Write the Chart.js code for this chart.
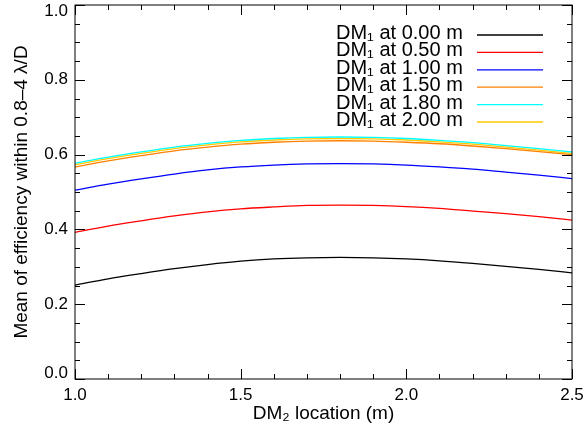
<!DOCTYPE html>
<html>
<head>
<meta charset="utf-8">
<script src="https://cdn.jsdelivr.net/npm/chart.js@4/dist/chart.umd.min.js"></script>
<style>
  html, body { margin: 0; padding: 0; background: #ffffff; }
  #wrap { width: 584px; height: 434px; position: relative; }
</style>
</head>
<body>
<div id="wrap"><canvas id="c" width="584" height="434"></canvas></div>
<script>
// ---- data ----
const dm2Location = [1.0, 1.1, 1.2, 1.3, 1.4, 1.5, 1.6, 1.7, 1.8, 1.9, 2.0, 2.1, 2.2, 2.3, 2.4, 2.5];
const effDM1_000 = [0.251, 0.268, 0.282, 0.295, 0.306, 0.315, 0.321, 0.324, 0.325, 0.324, 0.321, 0.316, 0.309, 0.301, 0.293, 0.284];
const effDM1_050 = [0.392, 0.409, 0.423, 0.436, 0.447, 0.455, 0.460, 0.464, 0.465, 0.464, 0.461, 0.456, 0.449, 0.442, 0.434, 0.425];
const effDM1_100 = [0.505, 0.521, 0.535, 0.548, 0.559, 0.567, 0.572, 0.575, 0.576, 0.575, 0.572, 0.567, 0.561, 0.553, 0.545, 0.536];
const effDM1_150 = [0.567, 0.583, 0.597, 0.610, 0.620, 0.628, 0.633, 0.636, 0.637, 0.636, 0.633, 0.629, 0.623, 0.616, 0.608, 0.600];
const effDM1_180 = [0.577, 0.593, 0.607, 0.620, 0.630, 0.638, 0.643, 0.646, 0.647, 0.646, 0.643, 0.638, 0.632, 0.624, 0.616, 0.607];
const effDM1_200 = [0.573, 0.589, 0.603, 0.616, 0.626, 0.634, 0.639, 0.642, 0.643, 0.642, 0.639, 0.634, 0.628, 0.620, 0.612, 0.603];

const seriesLabels = ['DM\u2081 at 0.00 m', 'DM\u2081 at 0.50 m', 'DM\u2081 at 1.00 m', 'DM\u2081 at 1.50 m', 'DM\u2081 at 1.80 m', 'DM\u2081 at 2.00 m'];
const seriesValues = [effDM1_000, effDM1_050, effDM1_100, effDM1_150, effDM1_180, effDM1_200];
const seriesColors = ['#000000', '#ff0000', '#0000ff', '#ff8000', '#00ffff', '#ffc800'];

const xMajorTicks = [1.0, 1.5, 2.0, 2.5];
const xTickLabels = ['1.0', '1.5', '2.0', '2.5'];
const yMajorTicks = [0.0, 0.2, 0.4, 0.6, 0.8, 1.0];
const yTickLabels = ['0.0', '0.2', '0.4', '0.6', '0.8', '1.0'];
const xTitle = 'DM\u2082 location (m)';
const yTitle = 'Mean of efficiency within 0.8\u20134 \u03bb/D';

// ---- chart ----
const FONT = '"Liberation Sans", Arial, Helvetica, sans-serif';

const datasets = seriesValues.map((vals, i) => ({
  label: seriesLabels[i],
  data: dm2Location.map((x, j) => ({ x: x, y: vals[j] })),
  borderColor: seriesColors[i],
  backgroundColor: seriesColors[i],
  borderWidth: 1.3,
  pointRadius: 0,
  fill: false,
  cubicInterpolationMode: 'monotone'
}));

const idlFrame = {
  id: 'idlFrame',
  afterDraw(chart) {
    const ctx = chart.ctx;
    const a = chart.chartArea;
    const xs = chart.scales.x, ys = chart.scales.y;
    ctx.save();
    ctx.strokeStyle = '#000';
    ctx.lineWidth = 1;
    // box
    ctx.strokeRect(a.left, a.top, a.right - a.left, a.bottom - a.top);
    // x ticks (bottom + top, inward)
    ctx.beginPath();
    for (let k = 0; k <= 15; k++) {
      const v = 1.0 + k * 0.1;
      const px = Math.round(xs.getPixelForValue(v)) + 0.5;
      const len = (k % 5 === 0) ? 10 : 5;
      ctx.moveTo(px, a.bottom); ctx.lineTo(px, a.bottom - len);
      ctx.moveTo(px, a.top); ctx.lineTo(px, a.top + len);
    }
    // y ticks (left + right, inward)
    for (let k = 0; k <= 20; k++) {
      const v = k * 0.05;
      const py = Math.round(ys.getPixelForValue(v)) + 0.5;
      const len = (k % 4 === 0) ? 10 : 5;
      ctx.moveTo(a.left, py); ctx.lineTo(a.left + len, py);
      ctx.moveTo(a.right, py); ctx.lineTo(a.right - len, py);
    }
    ctx.stroke();

    ctx.fillStyle = '#000';
    // x tick labels
    ctx.font = '17px ' + FONT;
    ctx.textAlign = 'center';
    ctx.textBaseline = 'middle';
    xMajorTicks.forEach((v, i) => {
      ctx.fillText(xTickLabels[i], xs.getPixelForValue(v), 395);
    });
    // y tick labels
    ctx.textAlign = 'right';
    yMajorTicks.forEach((v, i) => {
      let py = ys.getPixelForValue(v);
      py = Math.min(Math.max(py, 11), 373);
      ctx.fillText(yTickLabels[i], 68, py);
    });
    // axis titles
    ctx.font = '19px ' + FONT;
    ctx.textAlign = 'center';
    ctx.textBaseline = 'alphabetic';
    ctx.fillText(xTitle, (a.left + a.right) / 2, 419);
    ctx.save();
    ctx.translate(27, (a.top + a.bottom) / 2);
    ctx.rotate(-Math.PI / 2);
    ctx.fillText(yTitle, 0, 0);
    ctx.restore();
    // legend
    ctx.font = '20px ' + FONT;
    ctx.textAlign = 'left';
    chart.data.datasets.forEach((ds, i) => {
      const base = 39 + i * 17.4;
      ctx.fillStyle = '#000';
      ctx.fillText(ds.label, 336, base);
      ctx.strokeStyle = ds.borderColor;
      ctx.lineWidth = 1.3;
      ctx.beginPath();
      ctx.moveTo(477, base - 4);
      ctx.lineTo(543, base - 4);
      ctx.stroke();
    });
    ctx.restore();
  }
};

new Chart(document.getElementById('c'), {
  type: 'line',
  data: { datasets: datasets },
  options: {
    responsive: false,
    animation: false,
    layout: { padding: { top: 5, right: 12, left: 0, bottom: 0 } },
    plugins: { legend: { display: false }, tooltip: { enabled: false } },
    scales: {
      x: {
        type: 'linear', min: 1.0, max: 2.5,
        ticks: { display: false },
        grid: { display: false },
        border: { display: false },
        afterFit(scale) { scale.height = 55; }
      },
      y: {
        type: 'linear', min: 0, max: 1,
        ticks: { display: false },
        grid: { display: false },
        border: { display: false },
        afterFit(scale) { scale.width = 75; }
      }
    }
  },
  plugins: [idlFrame]
});
</script>
</body>
</html>
